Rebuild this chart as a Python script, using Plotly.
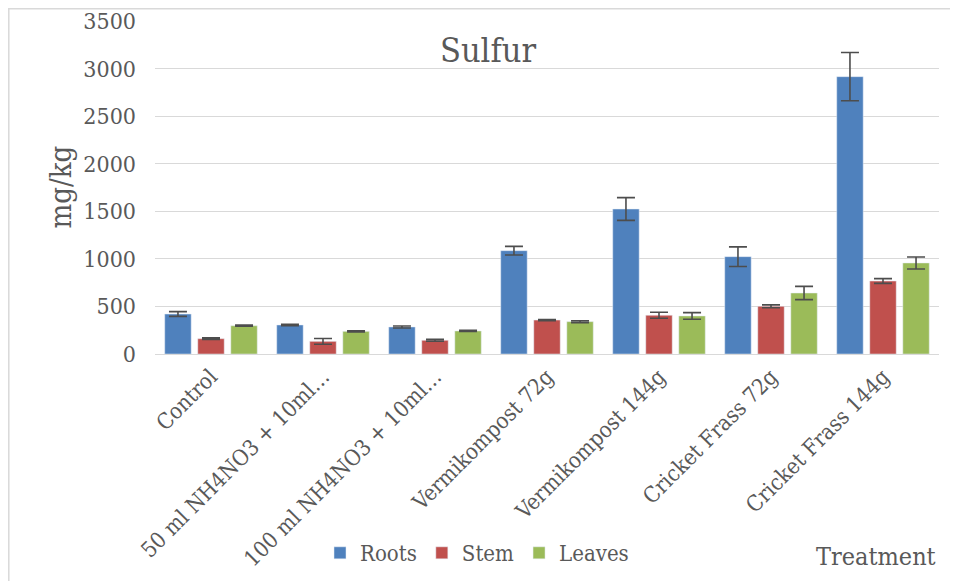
import plotly.graph_objects as go

categories = ["Control", "50 ml NH4NO3 + 10ml…", "100 ml NH4NO3 + 10ml…",
              "Vermikompost 72g", "Vermikompost 144g", "Cricket Frass 72g", "Cricket Frass 144g"]
roots = [420, 305, 284, 1086, 1524, 1023, 2915]
roots_err = [25, 8, 10, 45, 120, 103, 254]
stem = [161, 133, 144, 357, 407, 501, 767]
stem_err = [8, 30, 10, 6, 32, 15, 25]
leaves = [297, 238, 242, 340, 400, 641, 957]
leaves_err = [6, 6, 6, 10, 35, 70, 63]

series = [("Roots", roots, roots_err, "#4f81bd"),
          ("Stem", stem, stem_err, "#c0504d"),
          ("Leaves", leaves, leaves_err, "#9bbb59")]

FONT = "DejaVu Serif Condensed, DejaVu Serif, serif"
TXT = "#595959"

fig = go.Figure()
for name, vals, errs, col in series:
    fig.add_trace(go.Bar(
        name=name, x=categories, y=vals, marker_color=col,
        error_y=dict(type="data", array=errs, visible=True, color="#4d4d4d",
                     thickness=1.6, width=9),
    ))

# page body has an 8px margin; work in screen pixels and convert
OFF = 8
W, H = 958 - OFF, 581 - OFF
L, R, T, B = 155 - OFF, 958 - 939, 21 - OFF, 581 - 354
pw, ph = W - L - R, H - T - B


def px(sx):
    return (sx - OFF - L) / pw


def py(sy):
    return (T + ph - (sy - OFF)) / ph


fig.update_layout(
    width=W, height=H,
    margin=dict(l=L, r=R, t=T, b=B, autoexpand=False),
    paper_bgcolor="white", plot_bgcolor="white",
    barmode="group", bargap=0.115, bargroupgap=0.2,
    font=dict(family=FONT, color=TXT, size=22),
    title=dict(text="Sulfur", x=(488 - OFF) / W, xanchor="center",
               y=1 - (50 - OFF) / H, yanchor="middle",
               font=dict(family=FONT, size=34, color=TXT)),
    showlegend=True,
    legend=dict(orientation="h", x=px(477), xanchor="center",
                y=py(553), yanchor="middle",
                font=dict(family=FONT, size=22, color=TXT),
                itemwidth=30, tracegroupgap=0),
    xaxis=dict(tickangle=-45, showgrid=False, showline=True, linecolor="#d9d9d9",
               linewidth=1.3, ticks="", automargin=False,
               tickfont=dict(family=FONT, size=22, color=TXT)),
    yaxis=dict(range=[0, 3500], dtick=500, showgrid=True, gridcolor="#d9d9d9",
               gridwidth=1.3, zeroline=False, showline=False, ticks="",
               ticklabelstandoff=18, automargin=False,
               tickfont=dict(family=FONT, size=23, color=TXT)),
    annotations=[
        dict(text="mg/kg", xref="paper", yref="paper", x=px(60), y=0.5,
             xanchor="center", yanchor="middle", textangle=-90, showarrow=False,
             font=dict(family=FONT, size=29, color=TXT)),
        dict(text="Treatment", xref="paper", yref="paper", x=px(938),
             y=py(556), xanchor="right", yanchor="middle", showarrow=False,
             font=dict(family=FONT, size=25, color=TXT)),
    ],
    shapes=[
        dict(type="line", xref="paper", yref="paper", x0=px(8), x1=px(958),
             y0=py(8.8), y1=py(8.8), line=dict(color="#d9d9d9", width=1.5)),
        dict(type="line", xref="paper", yref="paper", x0=px(8.8), x1=px(8.8),
             y0=py(8), y1=py(581), line=dict(color="#d9d9d9", width=1.5)),
    ],
)

fig.write_html("out.html")
